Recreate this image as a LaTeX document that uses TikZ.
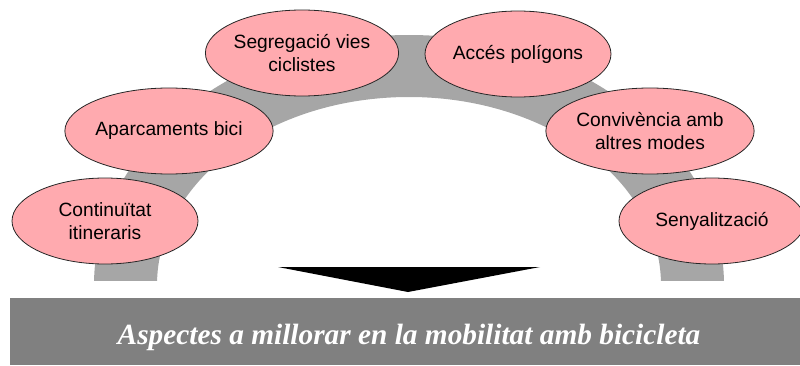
\documentclass[tikz,border=0pt]{standalone}
\usepackage{fontspec}
\setmainfont{Liberation Sans}
\newfontfamily\barfont{Liberation Serif}
\usetikzlibrary{shapes.geometric}
\definecolor{bubblepink}{RGB}{255,170,175}
\definecolor{archgray}{RGB}{166,166,166}
\definecolor{bargray}{RGB}{128,128,128}
\tikzset{
  bubble/.style={ellipse, draw=black!85, line width=0.6pt, fill=bubblepink,
    minimum width=139.5pt, minimum height=64.5pt, inner sep=0pt, align=center,
    font=\fontsize{14.4pt}{17.5pt}\selectfont},
}
\begin{document}
\begin{tikzpicture}[x=0.75pt, y=0.75pt]
    \useasboundingbox (0,0) rectangle (800,365);
    % arch behind the bubbles
    \begin{scope}
      \clip (0,85) rectangle (800,365);
      \fill[archgray, even odd rule] (409,80) ellipse [x radius=315, y radius=250]
        (409,80) ellipse [x radius=252, y radius=188];
    \end{scope}
    % bubbles
    \node[bubble] (cont) at (105,144) {Continuïtat\\itineraris};
    \node[bubble] (apar) at (169,234) {Aparcaments bici};
    \node[bubble] (segr) at (302,312) {Segregació vies\\ciclistes};
    \node[bubble] (acce) at (518,311) {Accés polígons};
    \node[bubble] (conv) at (650,234) {Convivència amb\\altres modes};
    \node[bubble] (seny) at (712,144) {Senyalització};
    % arrow head and bar
    \fill[black] (278,98) -- (540,98) -- (408,73) -- cycle;
    \fill[bargray] (10,0) rectangle (800,67);
    \node[anchor=base, text=white, inner sep=0pt,
      font=\barfont\bfseries\itshape\fontsize{22pt}{26pt}\selectfont] (title) at (409,21)
      {Aspectes a millorar en la mobilitat amb bicicleta};
\end{tikzpicture}
\end{document}
